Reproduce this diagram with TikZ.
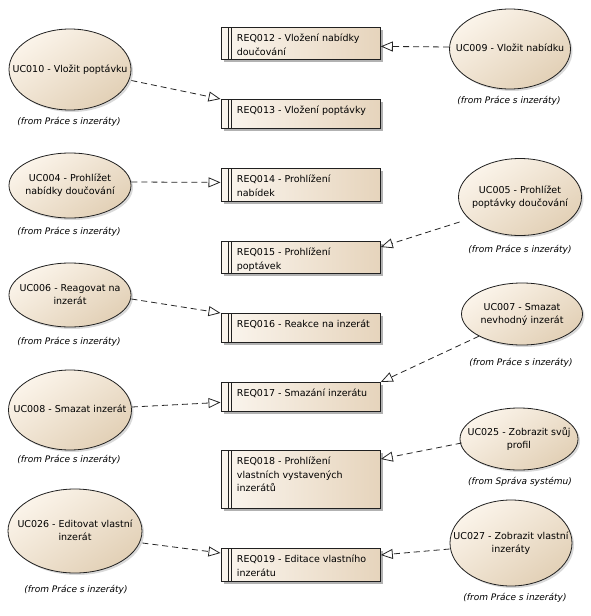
\documentclass[tikz,border=0pt]{standalone}
\usepackage{fontspec}
\setmainfont{DejaVu Sans}
\usetikzlibrary{arrows.meta,shapes.geometric,shadows,calc}
\definecolor{uclight}{HTML}{FBF4EA}
\definecolor{ucdark}{HTML}{E2D0B6}
\definecolor{rqlight}{HTML}{FBF6EF}
\definecolor{rqdark}{HTML}{E6D4BC}
\definecolor{edgecol}{HTML}{202020}
\newcommand{\reqtxt}[2]{\parbox[c][#1][t]{159.5pt}{\raggedright\leftskip=16pt\relax\vspace*{5pt}\strut #2\strut}}
\newcommand{\uctxt}[1]{\makebox[0pt]{\begin{tabular}{@{}c@{}}#1\end{tabular}}}
\begin{document}
\begin{tikzpicture}[x=1pt,y=-1pt,
  every node/.style={font=\fontsize{9.5}{13.3}\selectfont},
  usecase/.style={ellipse, draw=edgecol, line width=0.8pt, inner sep=0pt,
    top color=uclight, bottom color=ucdark, shading angle=35,
    drop shadow={shadow xshift=2pt, shadow yshift=-2pt, fill=black, opacity=0.15}},
  reqbox/.style={rectangle, draw=edgecol, line width=0.8pt, inner sep=0pt, anchor=north west,
    left color=rqlight, right color=rqdark,
    drop shadow={shadow xshift=3pt, shadow yshift=-3pt, fill=black, opacity=0.3},
    path picture={
      \draw[edgecol, line width=0.7pt] ([xshift=7.5pt]path picture bounding box.north west) -- ([xshift=7.5pt]path picture bounding box.south west);
      \draw[edgecol, line width=0.7pt] ([xshift=10.5pt]path picture bounding box.north west) -- ([xshift=10.5pt]path picture bounding box.south west);}},
  fromlbl/.style={font=\fontsize{9}{11}\selectfont\itshape, inner sep=0pt},
  conn/.style={draw=black!85, line width=0.8pt, dash pattern=on 6pt off 4pt,
    -{Triangle[open, length=12pt, width=10pt, line width=0.8pt]}}
]
\useasboundingbox[fill=white] (0,0) rectangle (590,616);

% use cases left
\node[usecase, minimum width=122pt, minimum height=81pt] (uc010) at (70,69.5) {\uctxt{UC010 - Vložit poptávku}};
\node[usecase, minimum width=122pt, minimum height=65pt] (uc004) at (70,185.5) {\uctxt{UC004 - Prohlížet\\nabídky doučování}};
\node[usecase, minimum width=122pt, minimum height=64pt] (uc006) at (70,295) {\uctxt{UC006 - Reagovat na\\inzerát}};
\node[usecase, minimum width=123pt, minimum height=80pt] (uc008) at (70,410) {\uctxt{UC008 - Smazat inzerát}};
\node[usecase, minimum width=134pt, minimum height=84pt] (uc026) at (75,531) {\uctxt{UC026 - Editovat vlastní\\inzerát}};

% use cases right
\node[usecase, minimum width=121pt, minimum height=80pt] (uc009) at (510,49) {\uctxt{UC009 - Vložit nabídku}};
\node[usecase, minimum width=123pt, minimum height=77pt] (uc005) at (520,197) {\uctxt{UC005 - Prohlížet\\poptávky doučování}};
\node[usecase, minimum width=121pt, minimum height=62pt] (uc007) at (522,314) {\uctxt{UC007 - Smazat\\nevhodný inzerát}};
\node[usecase, minimum width=118pt, minimum height=62pt] (uc025) at (519,439) {\uctxt{UC025 - Zobrazit svůj\\profil}};
\node[usecase, minimum width=122pt, minimum height=86pt] (uc027) at (511,543) {\uctxt{UC027 - Zobrazit vlastní\\inzeráty}};

% from labels
\node[fromlbl] (l010) at (69,122) {(from Práce s inzeráty)};
\node[fromlbl] (l004) at (69,232) {(from Práce s inzeráty)};
\node[fromlbl] (l006) at (69,342) {(from Práce s inzeráty)};
\node[fromlbl] (l008) at (69,460) {(from Práce s inzeráty)};
\node[fromlbl] (l026) at (76,590) {(from Práce s inzeráty)};
\node[fromlbl] (l009) at (509,101) {(from Práce s inzeráty)};
\node[fromlbl] (l005) at (520,250) {(from Práce s inzeráty)};
\node[fromlbl] (l007) at (521,363) {(from Práce s inzeráty)};
\node[fromlbl] (l025) at (520,482) {(from Správa systému)};
\node[fromlbl] (l027) at (515,598) {(from Práce s inzeráty)};

% requirements
\node[reqbox] (req012) at (220.5,27) {\reqtxt{32pt}{REQ012 - Vložení nabídky\\doučování}};
\node[reqbox] (req013) at (220.5,99) {\reqtxt{29pt}{REQ013 - Vložení poptávky}};
\node[reqbox] (req014) at (220.5,168) {\reqtxt{33pt}{REQ014 - Prohlížení\\nabídek}};
\node[reqbox] (req015) at (220.5,241) {\reqtxt{32pt}{REQ015 - Prohlížení\\poptávek}};
\node[reqbox] (req016) at (220.5,313) {\reqtxt{29pt}{REQ016 - Reakce na inzerát}};
\node[reqbox] (req017) at (220.5,382) {\reqtxt{29pt}{REQ017 - Smazání inzerátu}};
\node[reqbox] (req018) at (220.5,450) {\reqtxt{58pt}{REQ018 - Prohlížení\\vlastních vystavených\\inzerátů}};
\node[reqbox] (req019) at (220.5,548) {\reqtxt{33pt}{REQ019 - Editace vlastního\\inzerátu}};

% connectors
\draw[conn] ($(uc010.east)+(0,11)$) -- (req013.north west);
\draw[conn] ($(uc009.west)+(0,-2)$) -- ($(req012.east)+(0,3)$);
\draw[conn] ($(uc004.east)+(0,-3.5)$) -- ($(req014.west)+(0,-2.5)$);
\draw[conn] ($(uc005.west)+(1.5,25)$) -- ($(req015.north east)+(0,6)$);
\draw[conn] ($(uc006.east)+(0,4)$) -- (req016.north west);
\draw[conn] (uc007.south west) -- (req017.north east);
\draw[conn] ($(uc008.east)+(0,-3)$) -- ($(req017.west)+(0,5.5)$);
\draw[conn] ($(uc025.west)+(2,4)$) -- ($(req018.north east)+(0,9)$);
\draw[conn] ($(uc026.east)+(0,12)$) -- ($(req019.north west)+(0,5)$);
\draw[conn] ($(uc027.west)+(0,6)$) -- ($(req019.north east)+(0,7)$);
\end{tikzpicture}
\end{document}
